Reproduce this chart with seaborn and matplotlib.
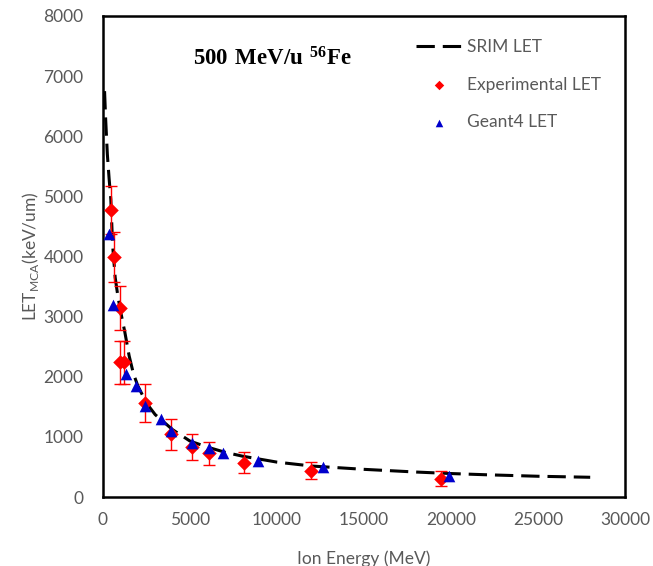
import matplotlib
matplotlib.use("Agg")
import matplotlib.pyplot as plt
import seaborn as sns
import pandas as pd

# SRIM LET curve
srim_energy = [90, 150, 250, 350, 450, 550, 700, 850, 1000, 1250, 1500, 1750, 2000, 2500,
               3000, 4000, 5000, 6000, 7000, 8000, 10000, 12000, 15000, 18000, 20000,
               22000, 25000, 28000]
srim_let = [6750, 6300, 5700, 5300, 4950, 4200, 3650, 3350, 3100, 2750, 2350, 2050, 1850,
            1560, 1370, 1120, 930, 830, 745, 680, 580, 515, 460, 415, 390, 370, 345, 328]

# Experimental LET
exp_energy = [440, 610, 950, 1000, 1200, 2400, 3920, 5100, 6110, 8110, 11980, 19410]
exp_let = [4770, 3995, 3145, 2240, 2240, 1560, 1040, 830, 730, 570, 440, 305]
exp_err = [400, 420, 360, 360, 360, 320, 250, 220, 190, 175, 140, 125]

# Geant4 LET
g4_energy = [325, 570, 1330, 1900, 2400, 3310, 3920, 5100, 6110, 6910, 8910, 12650, 19890]
g4_let = [4380, 3200, 2050, 1840, 1520, 1290, 1100, 905, 810, 730, 600, 495, 355]

x_ticks = [0, 5000, 10000, 15000, 20000, 25000, 30000]
y_ticks = [0, 1000, 2000, 3000, 4000, 5000, 6000, 7000, 8000]

sns.set_style("white")
plt.rcParams['font.family'] = ['Lato', 'DejaVu Sans']
plt.rcParams['mathtext.fontset'] = 'custom'
plt.rcParams['mathtext.rm'] = 'Lato'
plt.rcParams['mathtext.bf'] = 'Liberation Serif:bold'

gray = '#595959'
fig = plt.figure(figsize=(6.53, 5.66), dpi=100)
ax = fig.add_axes([103/653, 69/566, 522/653, 481/566])

srim_df = pd.DataFrame({'E': srim_energy, 'LET': srim_let})
exp_df = pd.DataFrame({'E': exp_energy, 'LET': exp_let})
g4_df = pd.DataFrame({'E': g4_energy, 'LET': g4_let})

sns.lineplot(data=srim_df, x='E', y='LET', ax=ax, color='black', linewidth=2.2,
             dashes=False, label='SRIM LET', zorder=2)
ax.lines[0].set_dashes((6, 2.6))
ax.errorbar(exp_energy, exp_let, yerr=exp_err, fmt='none', ecolor='red',
            elinewidth=1.0, capsize=4, capthick=1.0, zorder=3)
sns.scatterplot(data=exp_df, x='E', y='LET', ax=ax, marker='D', color='red', s=55,
                edgecolor='red', linewidth=0, label='Experimental LET', zorder=4)
sns.scatterplot(data=g4_df, x='E', y='LET', ax=ax, marker='^', color='#0000CC', s=70,
                edgecolor='#0000CC', linewidth=0, label='Geant4 LET', zorder=5)

ax.set_xlim(0, 30000)
ax.set_ylim(0, 8000)
ax.set_xticks(x_ticks)
ax.set_yticks(y_ticks)
ax.tick_params(axis='both', direction='in', length=5, width=1.2, colors='black',
               labelcolor=gray, labelsize=12.5)
ax.tick_params(axis='x', pad=11)
ax.tick_params(axis='y', pad=14)
for s in ax.spines.values():
    s.set_color('black')
    s.set_linewidth(1.8)

ax.set_xlabel('Ion Energy (MeV)', color=gray, fontsize=12.5, labelpad=16)
ax.set_ylabel(r'LET$_{\mathregular{MCA}}$(keV/um)', color=gray, fontsize=12.5, labelpad=2)

ax.text(0.324, 0.913, r'$\mathbf{500\ MeV/u\ ^{56}Fe}$', transform=ax.transAxes,
        ha='center', va='center', fontsize=16.5, color='black')

leg = ax.legend(loc='upper left', bbox_to_anchor=(0.57, 0.985), frameon=False,
                fontsize=12.5, labelspacing=1.25, handlelength=2.6, handletextpad=0.3,
                markerscale=0.65)
for t in leg.get_texts():
    t.set_color(gray)

fig.savefig('out.png', dpi=100)
